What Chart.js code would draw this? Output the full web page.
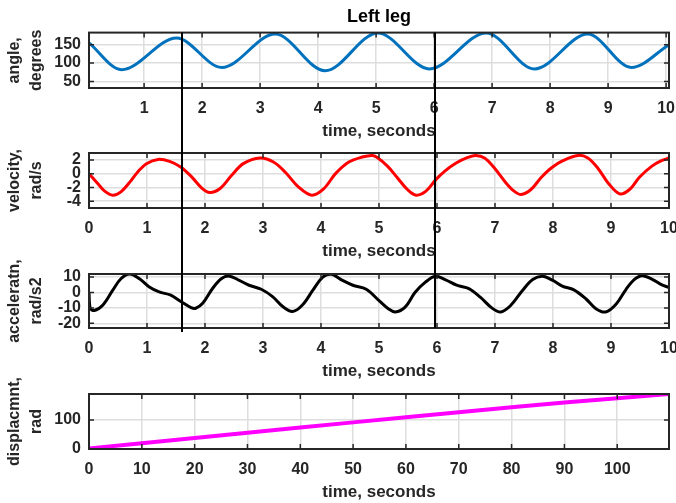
<!DOCTYPE html>
<html>
<head>
<meta charset="utf-8">
<title>Left leg</title>
<script src="https://cdn.jsdelivr.net/npm/chart.js@4.4.1/dist/chart.umd.min.js"></script>
<style>
  html, body { margin: 0; padding: 0; background: #fff; }
  #fig { position: relative; width: 676px; height: 503px; overflow: hidden; }
  #fig canvas { position: absolute; left: 0; }
</style>
</head>
<body>
<div id="fig">
  <canvas id="angleChart" width="676" height="142" style="top:0px"></canvas>
  <canvas id="velChart" width="676" height="120" style="top:142px"></canvas>
  <canvas id="accChart" width="676" height="132" style="top:250px"></canvas>
  <canvas id="dispChart" width="676" height="133" style="top:370px"></canvas>
</div>
<script>
// ==========================================
// Data
// ==========================================
// angle: start, then alternating troughs / peaks, then end
const angleTime = [0.05, 0.61, 1.56, 2.34, 3.26, 4.12, 5.03, 5.92, 6.90, 7.73, 8.65, 9.40, 10.05];
const angleDeg = [155, 82, 168, 88, 179, 79, 182, 84, 182, 84, 179, 88, 150];

const velTime = [0, 0.15, 0.27, 0.41, 0.55, 0.73, 0.84, 0.99, 1.19, 1.39,
  1.58, 1.77, 1.94, 2.08, 2.26, 2.46, 2.66, 2.95, 3.18, 3.38,
  3.61, 3.84, 4.05, 4.25, 4.48, 4.71, 4.88, 4.97, 5.15, 5.32,
  5.49, 5.64, 5.81, 5.98, 6.13, 6.33, 6.53, 6.67, 6.82, 6.99,
  7.19, 7.33, 7.45, 7.62, 7.80, 7.97, 8.17, 8.43, 8.60, 8.77,
  8.95, 9.15, 9.32, 9.49, 9.70, 9.87, 10.0];
const velRad = [0, -1.45, -2.55, -3.13, -2.65, -0.96, 0.24, 1.45, 2.07, 1.78,
  0.96, -0.48, -2.07, -2.75, -2.17, -0.24, 1.45, 2.27, 1.69, 0.24,
  -1.93, -3.13, -2.17, 0, 1.69, 2.41, 2.65, 2.36, 1.06, -0.63,
  -2.31, -3.13, -2.55, -0.87, 0.34, 1.54, 2.36, 2.65, 2.27, 0.82,
  -1.35, -2.55, -3.04, -2.31, -0.53, 0.82, 1.88, 2.65, 2.27, 0.82,
  -1.35, -2.94, -2.31, -0.53, 1.06, 1.88, 2.27];

const accTime = [0, 0.02, 0.09, 0.24, 0.41, 0.55, 0.70, 0.87, 1.04, 1.21,
  1.41, 1.59, 1.76, 1.84, 1.96, 2.13, 2.28, 2.42, 2.59, 2.76,
  2.97, 3.17, 3.34, 3.51, 3.68, 3.86, 4.03, 4.17, 4.37, 4.55,
  4.78, 5.01, 5.16, 5.28, 5.45, 5.62, 5.80, 5.97, 6.14, 6.35,
  6.55, 6.75, 6.95, 7.10, 7.27, 7.47, 7.65, 7.82, 7.99, 8.16,
  8.36, 8.57, 8.74, 8.91, 9.09, 9.26, 9.40, 9.54, 9.72, 9.86, 10.0];
const accRad = [0, -10, -11.7, -8.1, 1.5, 8.9, 12, 8.9, 3.6, 0.4,
  -1.7, -6.0, -9.8, -10.2, -7.0, 2.6, 8.9, 10.6, 7.9, 4.7,
  2.1, -2.8, -9.1, -12.3, -8.1, 1.5, 10, 12, 7.9, 4.7,
  2.1, -5.6, -10.5, -12.6, -9.5, 0, 6.7, 10.5, 8.4, 4.6,
  2.5, -3.2, -10.1, -12.6, -8.4, 1.1, 8.4, 10.5, 8.0, 4.2,
  1.7, -4.2, -10.5, -12.6, -7.4, 2.1, 8.4, 10.9, 8.4, 5.3, 3.2];

const dispTime = [0, 10, 20, 30, 40, 50, 60, 70, 80, 90, 100, 109.8];
const dispRad = [2, 20, 38, 56, 74, 92, 110, 127, 144, 161, 175, 190];

// vertical marker lines (seconds)
const cursorTimes = [1.6, 5.97];

// tick values
const timeTicks = [0, 1, 2, 3, 4, 5, 6, 7, 8, 9, 10];
const angleTicks = [50, 100, 150];
const velTicks = [-4, -2, 0, 2];
const accTicks = [-20, -10, 0, 10];
const dispTimeTicks = [0, 10, 20, 30, 40, 50, 60, 70, 80, 90, 100];
const dispTicks = [0, 100];

// ==========================================
// Styling
// ==========================================
const FONT = "'Liberation Sans', Arial, Helvetica, sans-serif";
const AXIS_COLOR = '#262626';
const GRID_COLOR = '#dedede';

// box around the plot area with inward tick marks (matlab look)
const boxPlugin = {
  id: 'box',
  afterDraw(chart) {
    const { ctx, chartArea: a, scales: { x, y } } = chart;
    ctx.save();
    ctx.strokeStyle = AXIS_COLOR;
    ctx.lineWidth = 1.5;
    ctx.beginPath();
    x.ticks.forEach(t => {
      const px = x.getPixelForValue(t.value);
      ctx.moveTo(px, a.bottom); ctx.lineTo(px, a.bottom - 5);
      ctx.moveTo(px, a.top); ctx.lineTo(px, a.top + 5);
    });
    y.ticks.forEach(t => {
      const py = y.getPixelForValue(t.value);
      ctx.moveTo(a.left, py); ctx.lineTo(a.left + 5, py);
      ctx.moveTo(a.right, py); ctx.lineTo(a.right - 5, py);
    });
    ctx.stroke();
    ctx.lineWidth = 2;
    ctx.strokeRect(a.left, a.top, a.right - a.left, a.bottom - a.top);
    ctx.restore();
  }
};

// vertical markers, positioned on the velocity chart's time axis so they line up
let velocityChart = null;
const cursorPlugin = {
  id: 'cursors',
  afterDraw(chart, args, opts) {
    const ref = (velocityChart || chart).scales.x;
    const { ctx, chartArea: a } = chart;
    ctx.save();
    ctx.strokeStyle = '#000';
    ctx.lineWidth = 2;
    cursorTimes.forEach((t, i) => {
      const px = Math.round(ref.getPixelForValue(t));
      const top = opts.fromArea ? a.top : 0;
      const bottom = opts.toArea ? a.bottom + (opts.tails ? opts.tails[i] : 0) : chart.height;
      ctx.beginPath();
      ctx.moveTo(px, top);
      ctx.lineTo(px, bottom);
      ctx.stroke();
    });
    ctx.restore();
  }
};

function makeChart(id, cfg) {
  const points = cfg.times.map((t, i) => ({ x: t, y: cfg.values[i] }));
  return new Chart(document.getElementById(id), {
    type: 'line',
    data: {
      datasets: [{
        data: points,
        borderColor: cfg.color,
        borderWidth: cfg.lineWidth || 3,
        pointRadius: 0,
        cubicInterpolationMode: cfg.monotone ? 'monotone' : 'default',
        tension: cfg.tension || 0
      }]
    },
    options: {
      responsive: false,
      animation: false,
      devicePixelRatio: 1,
      layout: { autoPadding: false, padding: { top: cfg.padTop, right: 7, bottom: 0, left: 0 } },
      plugins: {
        legend: { display: false },
        tooltip: { enabled: false },
        title: cfg.title ? {
          display: true,
          text: cfg.title,
          fullSize: false,
          color: '#000',
          font: { family: FONT, size: 18, weight: 'bold' },
          padding: { top: 6, bottom: 5 }
        } : { display: false },
        cursors: cfg.cursors || false
      },
      scales: {
        x: {
          type: 'linear',
          bounds: 'data',
          min: cfg.xMin,
          max: cfg.xMax,
          afterBuildTicks: s => { s.ticks = cfg.xTicks.map(v => ({ value: v })); },
          afterFit: s => { s.height = 54; s.paddingLeft = 0; s.paddingRight = 0; },
          grid: { color: GRID_COLOR, lineWidth: 1.5, drawTicks: false },
          border: { display: false },
          ticks: {
            color: AXIS_COLOR, padding: 11, maxRotation: 0, autoSkip: false,
            font: { family: FONT, size: 16, weight: 'bold' },
            callback: v => String(v)
          },
          title: {
            display: true, text: 'time, seconds', color: AXIS_COLOR,
            font: { family: FONT, size: 17, weight: 'bold' },
            padding: { top: 0, bottom: 0 }
          }
        },
        y: {
          type: 'linear',
          bounds: 'data',
          min: cfg.yMin,
          max: cfg.yMax,
          afterBuildTicks: s => { s.ticks = cfg.yTicks.map(v => ({ value: v })); },
          afterFit: s => { s.width = 89; s.paddingTop = 0; s.paddingBottom = 0; },
          grid: { color: GRID_COLOR, lineWidth: 1.5, drawTicks: false },
          border: { display: false },
          ticks: {
            color: AXIS_COLOR, padding: 8, autoSkip: false,
            font: { family: FONT, size: 16, weight: 'bold' },
            callback: v => String(v)
          },
          title: {
            display: true, text: cfg.yTitle, color: AXIS_COLOR,
            font: { family: FONT, size: 16, weight: 'bold', lineHeight: 1.375 },
            padding: { top: 4, bottom: 0 }
          }
        }
      }
    },
    plugins: [boxPlugin, cursorPlugin]
  });
}

// velocity first: its time axis is the reference for the marker lines
velocityChart = makeChart('velChart', {
  times: velTime, values: velRad, color: '#ff0000', tension: 0.35,
  padTop: 11, xMin: 0, xMax: 10, xTicks: timeTicks,
  yMin: -5, yMax: 3, yTicks: velTicks, yTitle: ['velocity,', 'rad/s'],
  cursors: { fromArea: false, toArea: false }
});

makeChart('angleChart', {
  times: angleTime, values: angleDeg, color: '#0072bd', monotone: true,
  title: 'Left leg', padTop: 0, xMin: 0.05, xMax: 10.05, xTicks: timeTicks.slice(1),
  yMin: 32, yMax: 183, yTicks: angleTicks, yTitle: ['angle,', 'degrees'],
  cursors: { fromArea: true, toArea: false }
});

makeChart('accChart', {
  times: accTime, values: accRad, color: '#000000', tension: 0.35,
  padTop: 24, xMin: 0, xMax: 10, xTicks: timeTicks,
  yMin: -23, yMax: 12, yTicks: accTicks, yTitle: ['acceleratn,', 'rad/s2'],
  cursors: { fromArea: false, toArea: true, tails: [4, 0] }
});

makeChart('dispChart', {
  times: dispTime, values: dispRad, color: '#ff00ff', lineWidth: 4,
  padTop: 24, xMin: 0, xMax: 109.8, xTicks: dispTimeTicks,
  yMin: 0, yMax: 190, yTicks: dispTicks, yTitle: ['displacmnt,', 'rad']
});
</script>
</body>
</html>
